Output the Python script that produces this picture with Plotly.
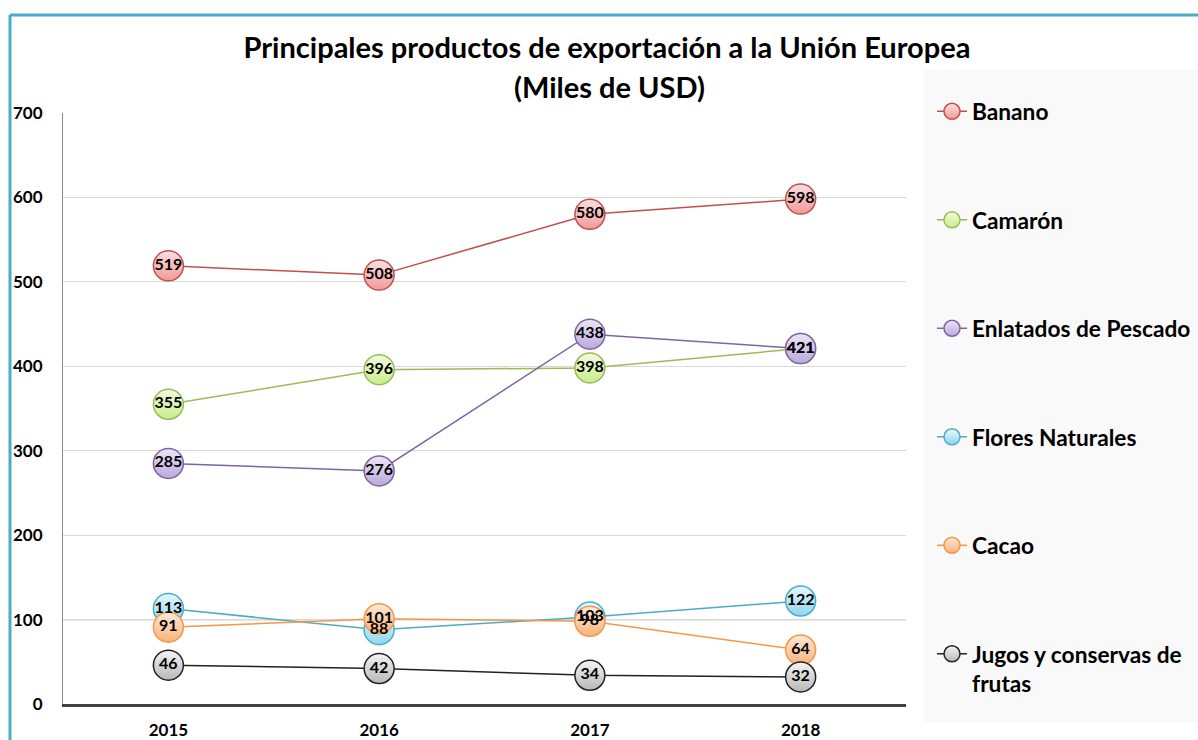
import plotly.graph_objects as go

# Export values to the European Union, thousands of USD
years = ["2015", "2016", "2017", "2018"]
banano = [519, 508, 580, 598]
camaron = [355, 396, 398, 421]
enlatados = [285, 276, 438, 421]
flores = [113, 88, 103, 122]
cacao = [91, 101, 98, 64]
jugos = [46, 42, 34, 32]

series_names = [
    "Banano",
    "Camarón",
    "Enlatados de Pescado",
    "Flores Naturales",
    "Cacao",
    "Jugos y conservas de<br>frutas",
]
series_values = [banano, camaron, enlatados, flores, cacao, jugos]
line_colors = ["#c0504d", "#9bbb59", "#8064a2", "#4bacc6", "#f79646", "#222222"]
top_colors = ["#fbe0e0", "#f1fbe0", "#ece6f6", "#e6f7fd", "#fde9d9", "#f4f4f4"]
bottom_colors = ["#ef9a98", "#c9ec8a", "#baa8dc", "#8fd6ef", "#fab27a", "#b8b8b8"]

y_ticks = [0, 100, 200, 300, 400, 500, 600, 700]

FONT = "Lato"

fig = go.Figure()

# Lines and markers, one legend group per series so the legend can be spaced out
for name, vals, lc, tc, bc in zip(series_names, series_values, line_colors, top_colors, bottom_colors):
    fig.add_trace(go.Scatter(
        x=years, y=vals, name=name, legendgroup=name,
        mode="lines+markers",
        line=dict(color=lc, width=1.5),
        marker=dict(size=30, color=tc, line=dict(color=lc, width=1.5),
                    gradient=dict(type="vertical", color=bc)),
        hoverinfo="skip",
    ))

# Value labels drawn above every marker
for name, vals in zip(series_names, series_values):
    fig.add_trace(go.Scatter(
        x=years, y=vals, mode="text", text=[str(v) for v in vals],
        textposition="middle center",
        textfont=dict(family=FONT, size=16, color="#000000", weight="bold"),
        showlegend=False, hoverinfo="skip",
    ))

# plot area in pixels: x 63..906, y 113..704
L, R, T, B = 63, 292, 113, 36
W, H = 1198, 740
pw, ph = W - L - R, H - T - B


def px_x(p):
    return (p - L) / pw


def px_y(p):
    return (H - B - p) / ph


shapes = [
    # legend panel
    dict(type="rect", xref="paper", yref="paper", layer="below",
         x0=px_x(924), x1=px_x(1205), y0=px_y(722), y1=px_y(70),
         fillcolor="#f9f9f9", line=dict(width=0)),
    # outer frame (left and top edges)
    dict(type="line", xref="paper", yref="paper",
         x0=px_x(10), x1=px_x(10), y0=px_y(15), y1=px_y(750),
         line=dict(color="#4bacc6", width=3)),
    dict(type="line", xref="paper", yref="paper",
         x0=px_x(10), x1=px_x(1210), y0=px_y(15), y1=px_y(15),
         line=dict(color="#4bacc6", width=3)),
    # darker 100 gridline
    dict(type="line", xref="paper", yref="y", layer="below",
         x0=0, x1=1, y0=100, y1=100,
         line=dict(color="#a6a6a6", width=1.2)),
]

fig.update_layout(
    width=W, height=H,
    margin=dict(l=L, r=R, t=T, b=B, autoexpand=False),
    paper_bgcolor="#ffffff", plot_bgcolor="#ffffff",
    font=dict(family=FONT, color="#000000"),
    title=dict(
        text="Principales productos de exportación a la Unión Europea",
        font=dict(family=FONT, size=29, color="#000000", weight="bold"),
        x=607 / W, xanchor="center", xref="container",
        y=1 - 48 / H, yanchor="middle", yref="container",
    ),
    annotations=[dict(
        text="(Miles de USD)", xref="paper", yref="paper",
        x=px_x(609), y=px_y(87), xanchor="center", yanchor="middle",
        showarrow=False,
        font=dict(family=FONT, size=29, color="#000000", weight="bold"),
    )],
    shapes=shapes,
    showlegend=True,
    legend=dict(
        x=px_x(932), xanchor="left", y=px_y(90), yanchor="top",
        bgcolor="rgba(0,0,0,0)", borderwidth=0,
        font=dict(family=FONT, size=22.7, color="#000000", weight="bold"),
        tracegroupgap=76, traceorder="grouped", valign="top",
        maxheight=720,
    ),
    xaxis=dict(
        type="category", range=[-0.5, 3.5], automargin=False,
        showgrid=False, showline=True, linecolor="#404040", linewidth=2.5,
        ticks="outside", ticklen=9, tickcolor="rgba(0,0,0,0)",
        tickfont=dict(family=FONT, size=17, color="#000000", weight="bold"),
        fixedrange=True, zeroline=False,
    ),
    yaxis=dict(
        range=[0, 700], tickvals=y_ticks, ticktext=[str(v) for v in y_ticks],
        automargin=False,
        showgrid=True, gridcolor="#d9d9d9", gridwidth=1,
        showline=True, linecolor="#8c8c8c", linewidth=1,
        ticks="outside", ticklen=16, tickcolor="rgba(0,0,0,0)",
        tickfont=dict(family=FONT, size=17, color="#000000", weight="bold"),
        zeroline=False, fixedrange=True,
    ),
)

fig.write_html("out.html")
